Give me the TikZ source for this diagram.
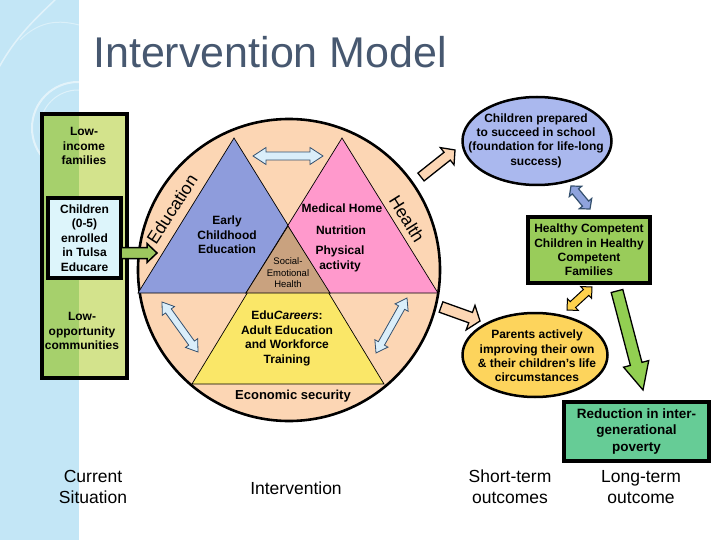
\documentclass[tikz,border=0pt]{standalone}
\usepackage{fontspec}
\setmainfont{Liberation Sans}
\usetikzlibrary{calc,shapes.geometric}
\definecolor{stripe}{HTML}{C3E6F6}
\definecolor{titlec}{HTML}{475870}
\definecolor{gdark}{HTML}{A6D06C}
\definecolor{glight}{HTML}{D3E38C}
\definecolor{cyanbox}{HTML}{DDF5FB}
\definecolor{peach}{HTML}{FCD6B4}
\definecolor{tblue}{HTML}{8E9CDC}
\definecolor{tpink}{HTML}{FF99CC}
\definecolor{tyellow}{HTML}{FAE768}
\definecolor{tbrown}{HTML}{C9A27F}
\definecolor{ellblue}{HTML}{AAB8EE}
\definecolor{boxgreen}{HTML}{99CC5A}
\definecolor{ellyellow}{HTML}{FDD45C}
\definecolor{redgreen}{HTML}{66CC96}
\definecolor{arrowgreen}{HTML}{92CF52}
\definecolor{leftarrow}{HTML}{9DC75E}
\definecolor{lightarrow}{HTML}{DAEEFA}
\definecolor{arrowblue}{HTML}{8FA3DD}
\definecolor{arrowedge}{HTML}{34506E}
\definecolor{yarrow}{HTML}{FFD24D}

\newcommand\blkarrow[6]{%
  \coordinate (ahd) at ($(#2)!#5!(#1)$);
  \draw[#6] ($(#1)!#3!90:(#2)$) -- ($(ahd)!#3!90:(#2)$) -- ($(ahd)!#4!90:(#2)$) -- (#2)
    -- ($(ahd)!#4!-90:(#2)$) -- ($(ahd)!#3!-90:(#2)$) -- ($(#1)!#3!-90:(#2)$) -- cycle;}
\newcommand\dblarrow[6]{%
  \coordinate (ahA) at ($(#1)!#5!(#2)$);
  \coordinate (ahB) at ($(#2)!#5!(#1)$);
  \draw[#6] (#1) -- ($(ahA)!#4!90:(#2)$) -- ($(ahA)!#3!90:(#2)$) -- ($(ahB)!#3!90:(#2)$)
    -- ($(ahB)!#4!90:(#2)$) -- (#2) -- ($(ahB)!#4!-90:(#2)$) -- ($(ahB)!#3!-90:(#2)$)
    -- ($(ahA)!#3!-90:(#2)$) -- ($(ahA)!#4!-90:(#2)$) -- cycle;}

\begin{document}
\begin{tikzpicture}[x=1pt,y=-1pt,
  lbl/.style={align=center, inner sep=0pt, font=\fontsize{12}{14.4}\selectfont\bfseries},
  big/.style={align=center, inner sep=0pt, font=\fontsize{17.5}{21}\selectfont},
  tri/.style={draw=black, line width=0.7pt},
  thickbox/.style={draw=black, line width=3.2pt, inner sep=0pt},
  lightdbl/.style={fill=lightarrow, draw=arrowedge, line width=0.8pt},
  peacharr/.style={fill=peach, draw=black, line width=1.3pt}]
\useasboundingbox (0,0) rectangle (720,540);
\fill[white] (0,0) rectangle (720,540);
% left stripe
\fill[stripe] (0,0) rectangle (79,540);
\begin{scope}
  \clip (0,0) rectangle (79,540);
  \draw[white, opacity=0.55, line width=2pt] (78,128) circle (46);
  \draw[white, opacity=0.45, line width=1pt] (78,128) circle (38);
  \draw[white, opacity=0.5, line width=1.5pt] (-5,75) .. controls (15,35) and (40,15) .. (60,-5);
  \draw[white, opacity=0.4, line width=1pt] (20,40) .. controls (40,20) and (60,20) .. (79,25);
\end{scope}
% title
\node[anchor=base west, inner sep=0pt, text=titlec, font=\fontsize{43}{43}\selectfont] (title) at (93,68) {Intervention Model};

% left box
\fill[gdark] (42,114) rectangle (79,378);
\fill[glight] (79,114) rectangle (127,378);
\node[thickbox, minimum width=85, minimum height=264] (leftbox) at (84.5,246) {};
\node[lbl] (lowinc) at (84,146) {Low-\\income\\families};
\node[lbl] (lowopp) at (82,331) {Low-\\opportunity\\communities};
\node[thickbox, fill=cyanbox, minimum width=73, minimum height=80, font=\fontsize{12}{14.5}\selectfont\bfseries, align=center] (kids) at (84.5,238) {Children\\(0-5)\\enrolled\\in Tulsa\\Educare};

% circle
\node[circle, draw=black, line width=2.6pt, fill=peach, minimum size=302, inner sep=0pt] (circ) at (289,270) {};
\draw[tri, fill=tblue] (234,138) -- (138,293) -- (330,293) -- cycle;
\draw[tri, fill=tpink] (342,138) -- (246,293) -- (438,293) -- cycle;
\draw[tri, fill=tyellow] (288,226) -- (192,384) -- (384,384) -- cycle;
\draw[tri, fill=tbrown] (288,226) -- (246,293) -- (330,293) -- cycle;

\node[inner sep=0pt, rotate=57, font=\fontsize{17.5}{17.5}\selectfont] (edu) at (172,209) {Education};
\node[inner sep=0pt, rotate=-58, font=\fontsize{17.5}{17.5}\selectfont] (health) at (407,219) {Health};

\node[lbl] (ece) at (227,235) {Early\\Childhood\\Education};
\node[lbl] (med) at (342,208) {Medical Home};
\node[lbl] (nut) at (341,230) {Nutrition};
\node[lbl] (phys) at (340,259) {Physical\\activity};
\node[align=center, inner sep=0pt, font=\fontsize{9.5}{11.5}\selectfont] (seh) at (288,273) {Social-\\Emotional\\Health};
\node[lbl] (educ) at (287,338.5) {Edu\textit{Careers}:\\Adult Education\\and Workforce\\Training};
\node[inner sep=0pt, font=\fontsize{13}{13}\selectfont\bfseries] (econ) at (293,396) {Economic security};

% double arrows inside circle
\coordinate (ta1) at (253,156); \coordinate (ta2) at (323,156);
\dblarrow{ta1}{ta2}{4pt}{8.5pt}{13pt}{lightdbl}
\coordinate (la1) at (162,302); \coordinate (la2) at (198,352);
\dblarrow{la1}{la2}{3.5pt}{7.5pt}{11pt}{lightdbl}
\coordinate (ra1) at (407,298); \coordinate (ra2) at (376,353);
\dblarrow{ra1}{ra2}{3.5pt}{7.5pt}{11pt}{lightdbl}

% arrow from kids box to circle
\coordinate (ka) at (121,253); \coordinate (kb) at (157,253);
\blkarrow{ka}{kb}{5.5pt}{9.5pt}{10pt}{fill=leftarrow, draw=black, line width=1.5pt}

% right side
\node[ellipse, draw=black, line width=2.5pt, fill=ellblue, minimum width=149, minimum height=88, inner sep=0pt] (prep) at (537,141) {};
\node[lbl] (preptext) at (536,140.5) {Children prepared\\to succeed in school\\(foundation for life-long\\success)};

\node[thickbox, fill=boxgreen, minimum width=122, minimum height=66, font=\fontsize{12}{14.4}\selectfont\bfseries, align=center] (hcc) at (589,250) {Healthy Competent\\Children in Healthy\\Competent\\Families};

\node[ellipse, draw=black, line width=2.5pt, fill=ellyellow, minimum width=145, minimum height=84, inner sep=0pt] (par) at (535,355) {};
\node[lbl] (partext) at (537,356) {Parents actively\\improving their own\\\& their children’s life\\circumstances};

\node[thickbox, fill=redgreen, minimum width=145, minimum height=59, font=\fontsize{13.5}{16.5}\selectfont\bfseries, align=center] (red) at (636.5,431.5) {Reduction in inter-\\generational\\poverty};

% arrows on right
\coordinate (pa1) at (421,177); \coordinate (pa2) at (455,150);
\blkarrow{pa1}{pa2}{5pt}{11pt}{10pt}{peacharr}
\coordinate (pb1) at (441,307); \coordinate (pb2) at (480,321);
\blkarrow{pb1}{pb2}{5.5pt}{13pt}{10pt}{peacharr}
\coordinate (ba1) at (571,186); \coordinate (ba2) at (590,209);
\dblarrow{ba1}{ba2}{4pt}{8pt}{7pt}{fill=arrowblue, draw=arrowedge, line width=1.2pt}
\coordinate (ya1) at (567,310); \coordinate (ya2) at (592,287);
\dblarrow{ya1}{ya2}{4pt}{8pt}{8pt}{fill=yarrow, draw=black, line width=1pt}
\coordinate (ga1) at (617,291); \coordinate (ga2) at (643,390);
\blkarrow{ga1}{ga2}{6pt}{13pt}{27pt}{fill=arrowgreen, draw=black, line width=1.3pt}

% bottom labels
\node[big] (cur) at (93,487) {Current\\Situation};
\node[big] (int) at (296,488) {Intervention};
\node[big] (st) at (510,487) {Short-term\\outcomes};
\node[big] (lt) at (641,487) {Long-term\\outcome};
\end{tikzpicture}
\end{document}
